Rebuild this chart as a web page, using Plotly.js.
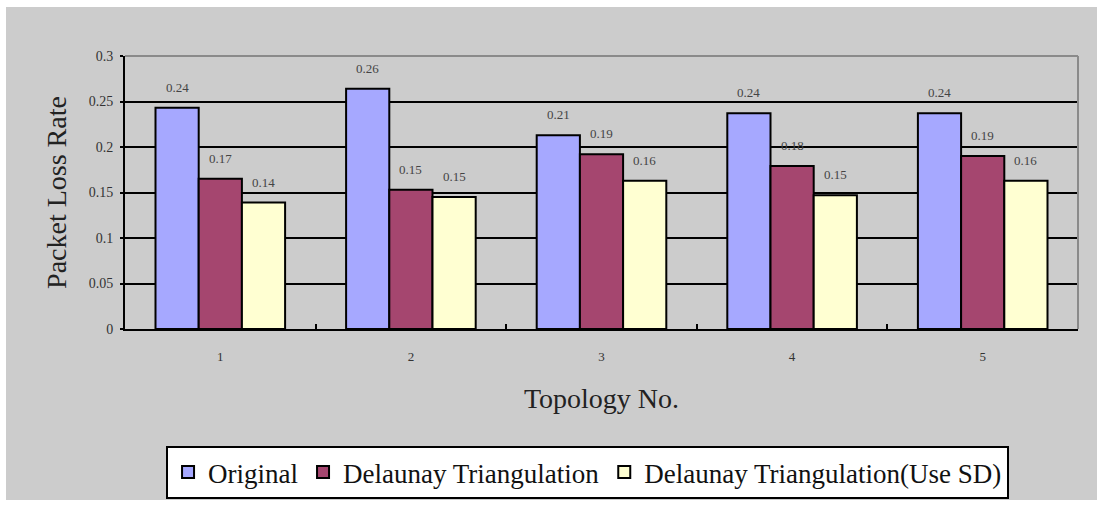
<!DOCTYPE html>
<html>
<head>
<meta charset="utf-8">
<script src="https://cdn.plot.ly/plotly-3.0.1.min.js"></script>
<style>
  html, body { margin: 0; padding: 0; background: #fff; }
  #chart { position: absolute; left: 6px; top: 7px; width: 1091px; height: 493px; }
</style>
</head>
<body>
<div id="chart"></div>
<script>
const topologies = ['1', '2', '3', '4', '5'];
const original = [0.243, 0.264, 0.213, 0.237, 0.237];
const delaunay = [0.165, 0.153, 0.192, 0.179, 0.190];
const delaunaySD = [0.139, 0.145, 0.163, 0.147, 0.163];
const originalLabels = ['0.24', '0.26', '0.21', '0.24', '0.24'];
const delaunayLabels = ['0.17', '0.15', '0.19', '0.18', '0.19'];
const delaunaySDLabels = ['0.14', '0.15', '0.16', '0.15', '0.16'];
const yTicks = [0, 0.05, 0.1, 0.15, 0.2, 0.25, 0.3];
const yTickText = ['0', '0.05', '0.1', '0.15', '0.2', '0.25', '0.3'];

const serif = 'Liberation Serif, Times New Roman, serif';
const barGap = 0.32;
const barW = (1 - barGap) / 3;

const series = [
  { name: 'Original', y: original, labels: originalLabels, color: '#a6a8ff' },
  { name: 'Delaunay Triangulation', y: delaunay, labels: delaunayLabels, color: '#a5466f' },
  { name: 'Delaunay Triangulation(Use SD)', y: delaunaySD, labels: delaunaySDLabels, color: '#ffffd2' }
];

const traces = series.map(s => ({
  type: 'bar',
  name: s.name,
  x: topologies,
  y: s.y,
  marker: { color: s.color, line: { color: '#000', width: 2 } },
  hoverinfo: 'x+y'
}));

// value labels sitting above each bar
const annotations = [];
series.forEach((s, si) => {
  s.y.forEach((v, i) => {
    annotations.push({
      x: i + (si - 1) * barW,
      y: v,
      xref: 'x', yref: 'y',
      text: s.labels[i],
      showarrow: false,
      yanchor: 'bottom',
      yshift: 11,
      font: { family: serif, size: 13, color: '#444' }
    });
  });
});

const layout = {
  width: 1091,
  height: 493,
  paper_bgcolor: '#cccccc',
  plot_bgcolor: '#cccccc',
  margin: { l: 119, r: 19, t: 49, b: 171 },
  barmode: 'group',
  bargap: barGap,
  bargroupgap: 0,
  showlegend: true,
  legend: {
    orientation: 'h',
    xref: 'container', yref: 'container',
    x: 0.1467, y: 0.1095,
    xanchor: 'left', yanchor: 'top',
    bgcolor: '#fff',
    bordercolor: '#000',
    borderwidth: 2,
    font: { family: serif, size: 27, color: '#111' },
    itemwidth: 30,
    traceorder: 'normal'
  },
  xaxis: {
    type: 'category',
    showline: true,
    linecolor: '#000',
    linewidth: 2,
    ticks: 'inside',
    tickson: 'boundaries',
    ticklen: 5,
    tickwidth: 2,
    tickcolor: '#000',
    showgrid: false,
    ticklabelstandoff: 14,
    tickfont: { family: serif, size: 13, color: '#333' },
    title: { text: 'Topology No.', font: { family: serif, size: 28, color: '#222' }, standoff: 26 }
  },
  yaxis: {
    range: [0, 0.3],
    tickvals: yTicks,
    ticktext: yTickText,
    showline: true,
    linecolor: '#000',
    linewidth: 2,
    ticks: 'outside',
    ticklen: 3,
    tickcolor: '#000',
    tickwidth: 2,
    showgrid: true,
    gridcolor: '#000',
    gridwidth: 2,
    zeroline: false,
    ticklabelstandoff: 4,
    tickfont: { family: serif, size: 14, color: '#333' },
    title: { text: 'Packet Loss Rate', font: { family: serif, size: 28, color: '#222' }, standoff: 14 }
  },
  shapes: [
    // gray frame on the top and right of the plot area
    { type: 'line', xref: 'paper', yref: 'paper', x0: 0, x1: 1, y0: 1, y1: 1, line: { color: '#8a8a8a', width: 2 }, layer: 'above' },
    { type: 'line', xref: 'paper', yref: 'paper', x0: 1, x1: 1, y0: 0, y1: 1, line: { color: '#8a8a8a', width: 2 }, layer: 'above' }
  ],
  annotations: annotations
};

Plotly.newPlot('chart', traces, layout, { displayModeBar: false, staticPlot: true });
</script>
</body>
</html>
